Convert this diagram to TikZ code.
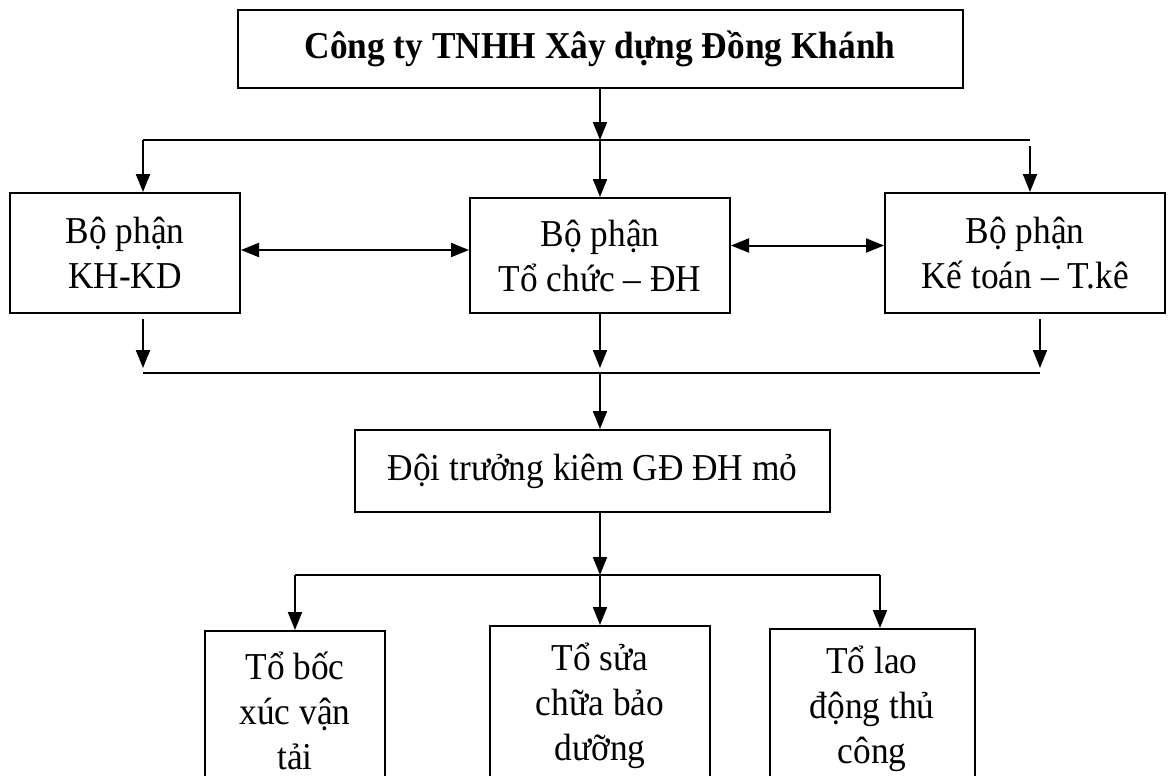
\documentclass[tikz,border=0pt]{standalone}
\usepackage{fontspec}
\setmainfont[FakeStretch=0.93]{Liberation Serif}
\usepackage{tikz}
\usetikzlibrary{arrows.meta,positioning}

\begin{document}
\begin{tikzpicture}[
  x=0.5pt, y=-0.5pt,
  box/.style ={draw=black, line width=1pt, inner sep=0pt, align=center, font=\fontsize{19}{22.5}\selectfont},
  arr/.style ={-{Triangle[length=9pt,width=7pt]}, line width=1pt},
  both/.style={{Triangle[length=9pt,width=7pt]}-{Triangle[length=9pt,width=7pt]}, line width=1pt},
  bus/.style ={line width=1pt},
]
  \path[use as bounding box, clip] (0,0) rectangle (1169,776);

  \node[box, font=\fontsize{19}{22.5}\selectfont\bfseries, minimum width=362.5pt, minimum height=39pt] (cty) at (600,49) {Công ty TNHH Xây dựng Đồng Khánh};

  \node[box, minimum width=115pt, minimum height=60pt]   (khkd) at (125,253)    {Bộ phận\\KH-KD};
  \node[box, minimum width=130pt, minimum height=57.5pt] (tcdh) at (600,255.5)  {Bộ phận\\Tổ chức – ĐH};
  \node[box, minimum width=140pt, minimum height=60pt]   (ktoan) at (1025,253)  {Bộ phận\\Kế toán – T.kê};

  \node[box, minimum width=237.5pt, minimum height=41pt] (doitr) at (592.5,471) {Đội trưởng kiêm GĐ ĐH mỏ};

  \node[box, anchor=north, minimum width=90pt,    minimum height=80pt] (boc)  at (295,630) {Tổ bốc\\xúc vận\\tải};
  \node[box, anchor=north, minimum width=110pt,   minimum height=80pt] (sua)  at (600,625) {Tổ sửa\\chữa bảo\\dưỡng};
  \node[box, anchor=north, minimum width=102.5pt, minimum height=80pt] (lao)  at (872,628) {Tổ lao\\động thủ\\công};

  % bus lines
  \coordinate (busA)  at (600,140);
  \coordinate (busAl) at (143,140);
  \coordinate (busAr) at (1030,140);
  \coordinate (busAd) at (1030,146);
  \coordinate (busB)  at (600,373);
  \coordinate (busBl) at (143,373);
  \coordinate (busBr) at (1040,373);
  \coordinate (busC)  at (600,575);
  \coordinate (busCl) at (295,575);
  \coordinate (busCr) at (880,575);

  \draw[bus] (busAl) -- (busAr);
  \draw[bus] (busBl) -- (busBr);
  \draw[bus] (busCl) -- (busCr);

  \draw[arr] (cty.south) -- (busA);
  \draw[arr] (busAl) -- (busAl |- khkd.north);
  \draw[arr] (busA)  -- (tcdh.north);
  \draw[arr] (busAd) -- (busAd |- ktoan.north);

  \draw[both] ([yshift=1.5pt]khkd.east) -- ([yshift=1.5pt]khkd.east -| tcdh.west);
  \draw[both] ([yshift=5pt]tcdh.east)   -- ([yshift=5pt]tcdh.east -| ktoan.west);

  \draw[arr] ([yshift=-2.5pt]busBl |- khkd.south)  -- ([yshift=2.5pt]busBl);
  \draw[arr] (tcdh.south)                          -- ([yshift=2.5pt]busB);
  \draw[arr] ([yshift=-2.5pt]busBr |- ktoan.south) -- ([yshift=2.5pt]busBr);

  \draw[arr] (busB) -- (busB |- doitr.north);
  \draw[arr] (doitr.south -| busC) -- (busC);

  \draw[arr] (busCl) -- (boc.north);
  \draw[arr] (busC)  -- (sua.north);
  \draw[arr] (busCr) -- (busCr |- lao.north);
\end{tikzpicture}
\end{document}
